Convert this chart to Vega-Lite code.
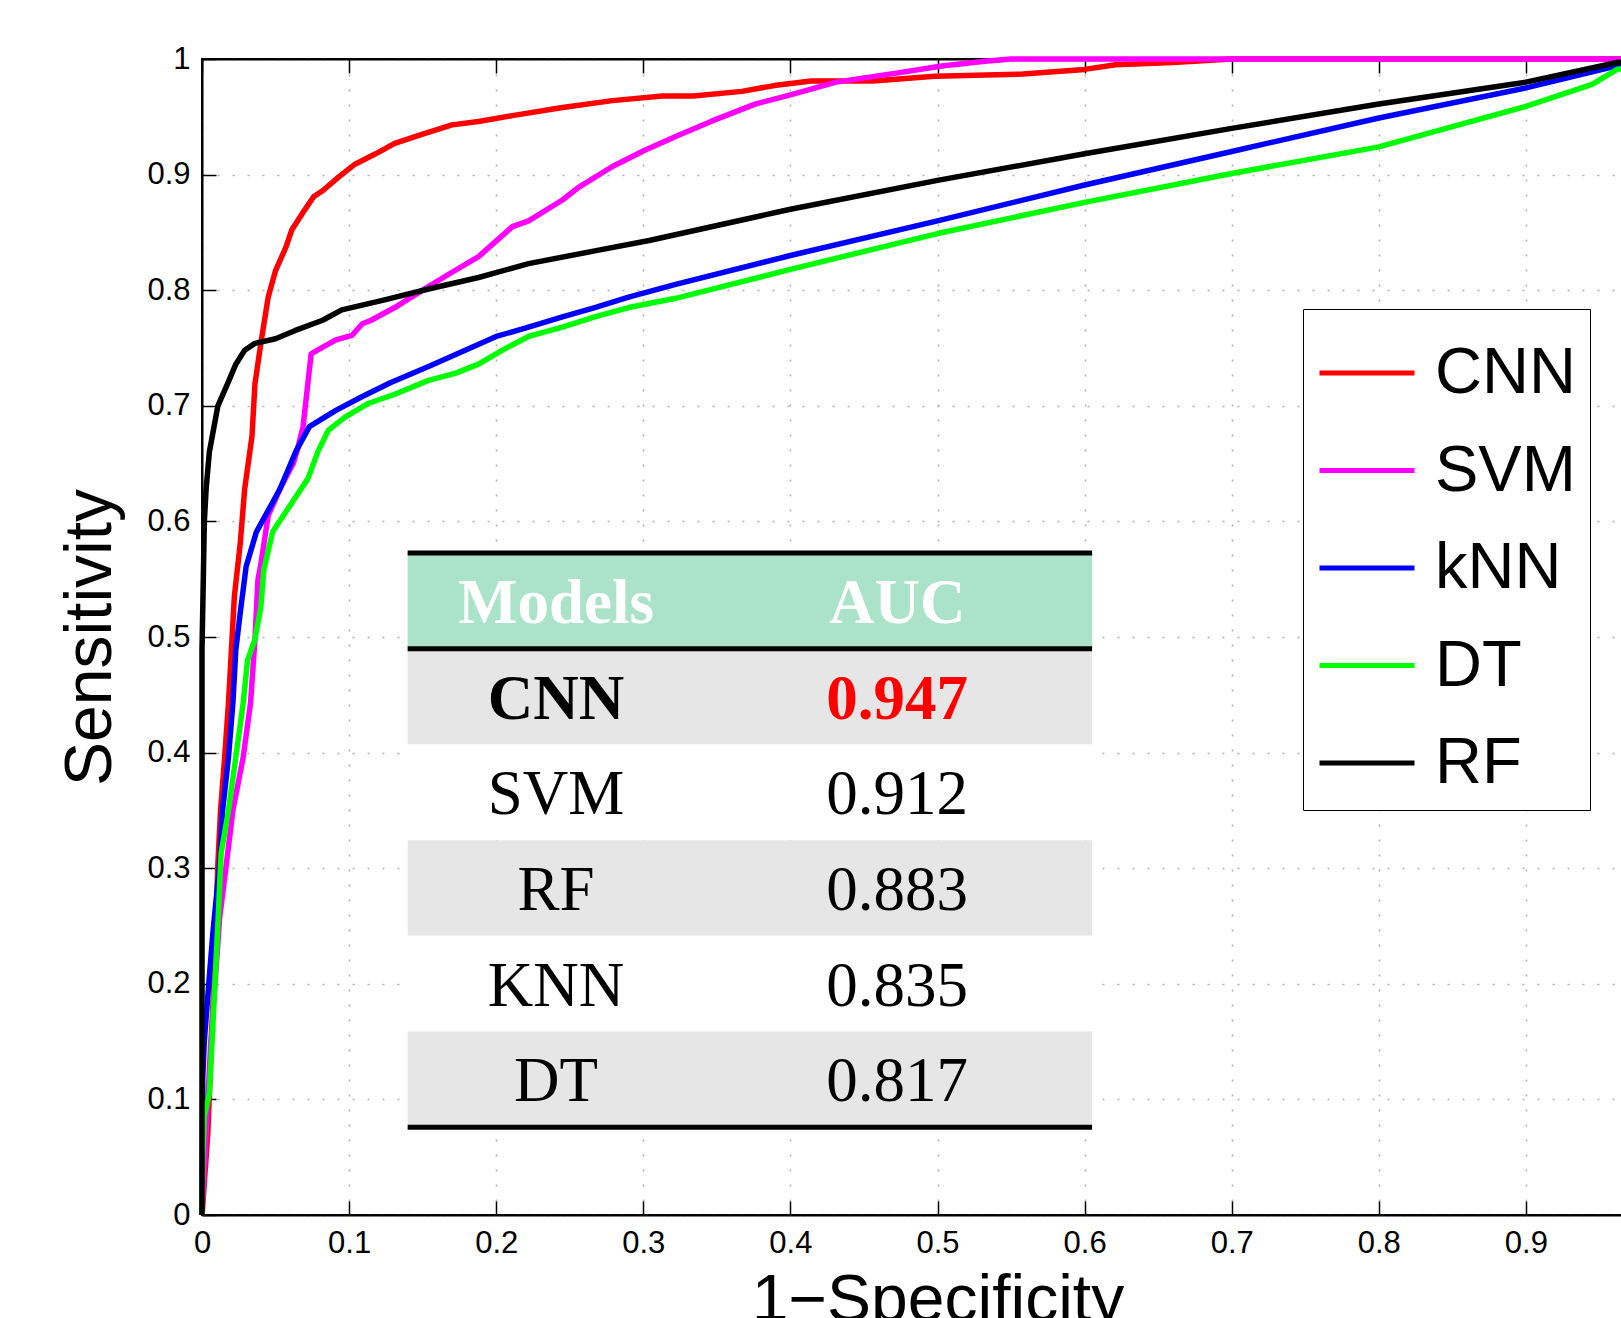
{
  "$schema": "https://vega.github.io/schema/vega-lite/v6.json",
  "width": 1471,
  "height": 1156,
  "autosize": {"type": "none"},
  "padding": {"left": 202, "top": 59, "right": 0, "bottom": 103},
  "background": "#ffffff",
  "config": {"view": {"stroke": "#000000", "strokeWidth": 2}},
  "datasets": {
    "roc": [
      {"model":"CNN","fpr":0,"tpr":0},{"model":"CNN","fpr":0.001,"tpr":0.017},{"model":"CNN","fpr":0.004,"tpr":0.072},{"model":"CNN","fpr":0.008,"tpr":0.2},{"model":"CNN","fpr":0.0108,"tpr":0.304},{"model":"CNN","fpr":0.0126,"tpr":0.35},{"model":"CNN","fpr":0.0154,"tpr":0.396},{"model":"CNN","fpr":0.018,"tpr":0.443},{"model":"CNN","fpr":0.02,"tpr":0.489},{"model":"CNN","fpr":0.022,"tpr":0.535},{"model":"CNN","fpr":0.026,"tpr":0.581},{"model":"CNN","fpr":0.029,"tpr":0.628},{"model":"CNN","fpr":0.034,"tpr":0.674},{"model":"CNN","fpr":0.036,"tpr":0.719},{"model":"CNN","fpr":0.04,"tpr":0.754},{"model":"CNN","fpr":0.045,"tpr":0.794},{"model":"CNN","fpr":0.05,"tpr":0.817},{"model":"CNN","fpr":0.057,"tpr":0.837},{"model":"CNN","fpr":0.061,"tpr":0.852},{"model":"CNN","fpr":0.068,"tpr":0.866},{"model":"CNN","fpr":0.076,"tpr":0.881},{"model":"CNN","fpr":0.082,"tpr":0.886},{"model":"CNN","fpr":0.093,"tpr":0.898},{"model":"CNN","fpr":0.104,"tpr":0.909},{"model":"CNN","fpr":0.118,"tpr":0.918},{"model":"CNN","fpr":0.131,"tpr":0.927},{"model":"CNN","fpr":0.15,"tpr":0.935},{"model":"CNN","fpr":0.17,"tpr":0.943},{"model":"CNN","fpr":0.188,"tpr":0.946},{"model":"CNN","fpr":0.211,"tpr":0.951},{"model":"CNN","fpr":0.245,"tpr":0.958},{"model":"CNN","fpr":0.279,"tpr":0.964},{"model":"CNN","fpr":0.313,"tpr":0.968},{"model":"CNN","fpr":0.334,"tpr":0.968},{"model":"CNN","fpr":0.367,"tpr":0.972},{"model":"CNN","fpr":0.389,"tpr":0.977},{"model":"CNN","fpr":0.414,"tpr":0.981},{"model":"CNN","fpr":0.456,"tpr":0.981},{"model":"CNN","fpr":0.498,"tpr":0.985},{"model":"CNN","fpr":0.558,"tpr":0.987},{"model":"CNN","fpr":0.6,"tpr":0.991},{"model":"CNN","fpr":0.621,"tpr":0.995},{"model":"CNN","fpr":0.66,"tpr":0.997},{"model":"CNN","fpr":0.7,"tpr":1},{"model":"CNN","fpr":1,"tpr":1},
      {"model":"SVM","fpr":0,"tpr":0},{"model":"SVM","fpr":0.002,"tpr":0.05},{"model":"SVM","fpr":0.006,"tpr":0.15},{"model":"SVM","fpr":0.012,"tpr":0.257},{"model":"SVM","fpr":0.0166,"tpr":0.304},{"model":"SVM","fpr":0.021,"tpr":0.35},{"model":"SVM","fpr":0.028,"tpr":0.396},{"model":"SVM","fpr":0.033,"tpr":0.443},{"model":"SVM","fpr":0.036,"tpr":0.498},{"model":"SVM","fpr":0.038,"tpr":0.549},{"model":"SVM","fpr":0.04,"tpr":0.563},{"model":"SVM","fpr":0.045,"tpr":0.605},{"model":"SVM","fpr":0.053,"tpr":0.628},{"model":"SVM","fpr":0.062,"tpr":0.65},{"model":"SVM","fpr":0.0646,"tpr":0.661},{"model":"SVM","fpr":0.0687,"tpr":0.682},{"model":"SVM","fpr":0.0742,"tpr":0.745},{"model":"SVM","fpr":0.077,"tpr":0.747},{"model":"SVM","fpr":0.091,"tpr":0.757},{"model":"SVM","fpr":0.102,"tpr":0.761},{"model":"SVM","fpr":0.109,"tpr":0.771},{"model":"SVM","fpr":0.115,"tpr":0.774},{"model":"SVM","fpr":0.131,"tpr":0.785},{"model":"SVM","fpr":0.15,"tpr":0.8},{"model":"SVM","fpr":0.168,"tpr":0.814},{"model":"SVM","fpr":0.188,"tpr":0.829},{"model":"SVM","fpr":0.211,"tpr":0.855},{"model":"SVM","fpr":0.222,"tpr":0.86},{"model":"SVM","fpr":0.245,"tpr":0.878},{"model":"SVM","fpr":0.256,"tpr":0.889},{"model":"SVM","fpr":0.279,"tpr":0.907},{"model":"SVM","fpr":0.301,"tpr":0.921},{"model":"SVM","fpr":0.322,"tpr":0.933},{"model":"SVM","fpr":0.346,"tpr":0.946},{"model":"SVM","fpr":0.376,"tpr":0.961},{"model":"SVM","fpr":0.4,"tpr":0.969},{"model":"SVM","fpr":0.431,"tpr":0.98},{"model":"SVM","fpr":0.473,"tpr":0.988},{"model":"SVM","fpr":0.503,"tpr":0.994},{"model":"SVM","fpr":0.532,"tpr":0.998},{"model":"SVM","fpr":0.55,"tpr":1},{"model":"SVM","fpr":1,"tpr":1},
      {"model":"kNN","fpr":0,"tpr":0},{"model":"kNN","fpr":0.0005,"tpr":0.118},{"model":"kNN","fpr":0.0016,"tpr":0.151},{"model":"kNN","fpr":0.0046,"tpr":0.2},{"model":"kNN","fpr":0.0074,"tpr":0.244},{"model":"kNN","fpr":0.012,"tpr":0.304},{"model":"kNN","fpr":0.014,"tpr":0.35},{"model":"kNN","fpr":0.018,"tpr":0.396},{"model":"kNN","fpr":0.021,"tpr":0.443},{"model":"kNN","fpr":0.023,"tpr":0.489},{"model":"kNN","fpr":0.026,"tpr":0.521},{"model":"kNN","fpr":0.03,"tpr":0.561},{"model":"kNN","fpr":0.037,"tpr":0.591},{"model":"kNN","fpr":0.053,"tpr":0.628},{"model":"kNN","fpr":0.064,"tpr":0.661},{"model":"kNN","fpr":0.073,"tpr":0.682},{"model":"kNN","fpr":0.091,"tpr":0.696},{"model":"kNN","fpr":0.109,"tpr":0.708},{"model":"kNN","fpr":0.128,"tpr":0.72},{"model":"kNN","fpr":0.154,"tpr":0.734},{"model":"kNN","fpr":0.177,"tpr":0.747},{"model":"kNN","fpr":0.2,"tpr":0.76},{"model":"kNN","fpr":0.222,"tpr":0.768},{"model":"kNN","fpr":0.245,"tpr":0.777},{"model":"kNN","fpr":0.267,"tpr":0.785},{"model":"kNN","fpr":0.29,"tpr":0.794},{"model":"kNN","fpr":0.322,"tpr":0.805},{"model":"kNN","fpr":0.4,"tpr":0.83},{"model":"kNN","fpr":0.5,"tpr":0.86},{"model":"kNN","fpr":0.6,"tpr":0.891},{"model":"kNN","fpr":0.7,"tpr":0.92},{"model":"kNN","fpr":0.8,"tpr":0.949},{"model":"kNN","fpr":0.9,"tpr":0.975},{"model":"kNN","fpr":0.962,"tpr":0.994},{"model":"kNN","fpr":1,"tpr":1},
      {"model":"DT","fpr":0,"tpr":0},{"model":"DT","fpr":0.0005,"tpr":0.049},{"model":"DT","fpr":0.0016,"tpr":0.086},{"model":"DT","fpr":0.005,"tpr":0.105},{"model":"DT","fpr":0.0074,"tpr":0.165},{"model":"DT","fpr":0.0092,"tpr":0.211},{"model":"DT","fpr":0.011,"tpr":0.257},{"model":"DT","fpr":0.013,"tpr":0.313},{"model":"DT","fpr":0.018,"tpr":0.35},{"model":"DT","fpr":0.023,"tpr":0.396},{"model":"DT","fpr":0.028,"tpr":0.443},{"model":"DT","fpr":0.031,"tpr":0.48},{"model":"DT","fpr":0.036,"tpr":0.498},{"model":"DT","fpr":0.04,"tpr":0.526},{"model":"DT","fpr":0.042,"tpr":0.558},{"model":"DT","fpr":0.048,"tpr":0.591},{"model":"DT","fpr":0.06,"tpr":0.614},{"model":"DT","fpr":0.072,"tpr":0.637},{"model":"DT","fpr":0.079,"tpr":0.661},{"model":"DT","fpr":0.086,"tpr":0.679},{"model":"DT","fpr":0.097,"tpr":0.69},{"model":"DT","fpr":0.113,"tpr":0.702},{"model":"DT","fpr":0.131,"tpr":0.71},{"model":"DT","fpr":0.154,"tpr":0.722},{"model":"DT","fpr":0.172,"tpr":0.728},{"model":"DT","fpr":0.188,"tpr":0.736},{"model":"DT","fpr":0.204,"tpr":0.748},{"model":"DT","fpr":0.222,"tpr":0.76},{"model":"DT","fpr":0.245,"tpr":0.768},{"model":"DT","fpr":0.267,"tpr":0.777},{"model":"DT","fpr":0.29,"tpr":0.785},{"model":"DT","fpr":0.322,"tpr":0.793},{"model":"DT","fpr":0.4,"tpr":0.818},{"model":"DT","fpr":0.5,"tpr":0.849},{"model":"DT","fpr":0.6,"tpr":0.876},{"model":"DT","fpr":0.7,"tpr":0.901},{"model":"DT","fpr":0.8,"tpr":0.924},{"model":"DT","fpr":0.9,"tpr":0.959},{"model":"DT","fpr":0.945,"tpr":0.978},{"model":"DT","fpr":0.962,"tpr":0.991},{"model":"DT","fpr":1,"tpr":1},
      {"model":"RF","fpr":0,"tpr":0},{"model":"RF","fpr":0,"tpr":0.489},{"model":"RF","fpr":0.001,"tpr":0.558},{"model":"RF","fpr":0.0016,"tpr":0.6},{"model":"RF","fpr":0.0028,"tpr":0.628},{"model":"RF","fpr":0.005,"tpr":0.66},{"model":"RF","fpr":0.0108,"tpr":0.7},{"model":"RF","fpr":0.0177,"tpr":0.72},{"model":"RF","fpr":0.023,"tpr":0.736},{"model":"RF","fpr":0.029,"tpr":0.748},{"model":"RF","fpr":0.036,"tpr":0.754},{"model":"RF","fpr":0.05,"tpr":0.758},{"model":"RF","fpr":0.063,"tpr":0.765},{"model":"RF","fpr":0.082,"tpr":0.774},{"model":"RF","fpr":0.095,"tpr":0.783},{"model":"RF","fpr":0.122,"tpr":0.791},{"model":"RF","fpr":0.154,"tpr":0.801},{"model":"RF","fpr":0.188,"tpr":0.811},{"model":"RF","fpr":0.222,"tpr":0.823},{"model":"RF","fpr":0.267,"tpr":0.834},{"model":"RF","fpr":0.304,"tpr":0.843},{"model":"RF","fpr":0.4,"tpr":0.87},{"model":"RF","fpr":0.5,"tpr":0.895},{"model":"RF","fpr":0.6,"tpr":0.918},{"model":"RF","fpr":0.7,"tpr":0.94},{"model":"RF","fpr":0.8,"tpr":0.961},{"model":"RF","fpr":0.9,"tpr":0.98},{"model":"RF","fpr":0.962,"tpr":0.997},{"model":"RF","fpr":1,"tpr":1}
    ],
    "auc": [
      {"row":0,"model":"Models","auc":"AUC"},
      {"row":1,"model":"CNN","auc":"0.947"},
      {"row":2,"model":"SVM","auc":"0.912"},
      {"row":3,"model":"RF","auc":"0.883"},
      {"row":4,"model":"KNN","auc":"0.835"},
      {"row":5,"model":"DT","auc":"0.817"}
    ]
  },
  "layer": [
    {
      "data": {"name": "roc"},
      "mark": {"type": "line", "strokeWidth": 5.5, "strokeJoin": "round"},
      "encoding": {
        "x": {
          "field": "fpr", "type": "quantitative",
          "scale": {"domain": [0, 1], "nice": false, "zero": false},
          "axis": {
            "orient": "bottom", "values": [0,0.1,0.2,0.3,0.4,0.5,0.6,0.7,0.8,0.9,1], "format": "~g",
            "tickSize": -14, "tickColor": "#000000", "tickWidth": 1.5,
            "labelPadding": 27, "labelFont": "Liberation Sans", "labelFontSize": 31, "labelColor": "#000000",
            "labelFlush": false, "labelOverlap": false,
            "domainColor": "#000000", "domainWidth": 2,
            "grid": true, "gridDash": [2, 13], "gridColor": "#b0b0b0", "gridWidth": 1.5,
            "title": "1−Specificity", "titleFont": "Liberation Sans", "titleFontSize": 66, "titleFontWeight": "normal", "titleColor": "#000000", "titlePadding": 10
          }
        },
        "y": {
          "field": "tpr", "type": "quantitative",
          "scale": {"domain": [0, 1], "nice": false, "zero": false},
          "axis": {
            "orient": "left", "values": [0,0.1,0.2,0.3,0.4,0.5,0.6,0.7,0.8,0.9,1], "format": "~g",
            "tickSize": -14, "tickColor": "#000000", "tickWidth": 1.5,
            "labelPadding": 26, "labelFont": "Liberation Sans", "labelFontSize": 31, "labelColor": "#000000",
            "labelFlush": false, "labelOverlap": false,
            "domainColor": "#000000", "domainWidth": 2,
            "grid": true, "gridDash": [2, 13], "gridColor": "#b0b0b0", "gridWidth": 1.5,
            "title": "Sensitivity", "titleFont": "Liberation Sans", "titleFontSize": 66, "titleFontWeight": "normal", "titleColor": "#000000", "titlePadding": 22
          }
        },
        "color": {
          "field": "model", "type": "nominal",
          "scale": {"domain": ["CNN","SVM","kNN","DT","RF"], "range": ["#ff0000","#ff00ff","#0000ff","#00ff00","#000000"]},
          "legend": {
            "orient": "none", "legendX": 1101, "legendY": 250, "title": null,
            "symbolType": "stroke", "symbolSize": 9025, "symbolStrokeWidth": 5,
            "labelFont": "Liberation Sans", "labelFontSize": 65, "labelColor": "#000000", "labelOffset": 18, "labelLimit": 500,
            "rowPadding": 14.5, "padding": 14, "strokeColor": "#000000", "fillColor": "#ffffff", "cornerRadius": 0
          }
        },
        "order": {"value": null}
      }
    },
    {
      "data": {"name": "roc"},
      "mark": {"type": "point", "opacity": 0},
      "encoding": {
        "x": {
          "field": "fpr", "type": "quantitative",
          "scale": {"domain": [0, 1], "nice": false, "zero": false},
          "axis": {
            "orient": "top", "values": [0,0.1,0.2,0.3,0.4,0.5,0.6,0.7,0.8,0.9,1],
            "labels": false, "tickSize": -14, "tickColor": "#000000", "tickWidth": 1.5,
            "domainColor": "#000000", "domainWidth": 2, "grid": false, "title": null
          }
        },
        "y": {"field": "tpr", "type": "quantitative", "scale": {"domain": [0, 1], "nice": false}, "axis": null}
      }
    },
    {
      "data": {"name": "auc"},
      "layer": [
        {
          "mark": {"type": "rect"},
          "encoding": {
            "x": {"datum": 0.1398, "type": "quantitative", "axis": null},
            "x2": {"datum": 0.6051},
            "y": {"field": "row", "type": "ordinal", "scale": {"type": "band", "domain": [-5,-4,-3,-2,-1,0,1,2,3,4,5], "paddingInner": 0, "paddingOuter": 0.54, "align": 0.151}, "axis": null},
            "fill": {"condition": [{"test": "datum.row === 0", "value": "#abe2ca"}, {"test": "datum.row % 2 === 1", "value": "#e6e6e6"}], "value": "#ffffff"}
          }
        },
        {
          "transform": [{"filter": "datum.row <= 1"}],
          "mark": {"type": "rule", "strokeWidth": 5, "color": "#000000"},
          "encoding": {
            "x": {"datum": 0.1398, "type": "quantitative", "axis": null},
            "x2": {"datum": 0.6051},
            "y": {"field": "row", "type": "ordinal", "bandPosition": 0, "scale": {"type": "band", "domain": [-5,-4,-3,-2,-1,0,1,2,3,4,5], "paddingInner": 0, "paddingOuter": 0.54, "align": 0.151}, "axis": null}
          }
        },
        {
          "transform": [{"filter": "datum.row === 5"}],
          "mark": {"type": "rule", "strokeWidth": 5, "color": "#000000"},
          "encoding": {
            "x": {"datum": 0.1398, "type": "quantitative", "axis": null},
            "x2": {"datum": 0.6051},
            "y": {"field": "row", "type": "ordinal", "bandPosition": 1, "scale": {"type": "band", "domain": [-5,-4,-3,-2,-1,0,1,2,3,4,5], "paddingInner": 0, "paddingOuter": 0.54, "align": 0.151}, "axis": null}
          }
        },
        {
          "transform": [{"filter": "datum.row === 0"}],
          "mark": {"type": "text", "font": "Liberation Serif", "fontSize": 63, "fontWeight": "bold", "color": "#ffffff", "dy": 3},
          "encoding": {
            "x": {"datum": 0.2407, "type": "quantitative", "axis": null},
            "y": {"field": "row", "type": "ordinal", "scale": {"type": "band", "domain": [-5,-4,-3,-2,-1,0,1,2,3,4,5], "paddingInner": 0, "paddingOuter": 0.54, "align": 0.151}, "axis": null},
            "text": {"field": "model"}
          }
        },
        {
          "transform": [{"filter": "datum.row === 0"}],
          "mark": {"type": "text", "font": "Liberation Serif", "fontSize": 63, "fontWeight": "bold", "color": "#ffffff", "dy": 3},
          "encoding": {
            "x": {"datum": 0.4726, "type": "quantitative", "axis": null},
            "y": {"field": "row", "type": "ordinal", "scale": {"type": "band", "domain": [-5,-4,-3,-2,-1,0,1,2,3,4,5], "paddingInner": 0, "paddingOuter": 0.54, "align": 0.151}, "axis": null},
            "text": {"field": "auc"}
          }
        },
        {
          "transform": [{"filter": "datum.row === 1"}],
          "mark": {"type": "text", "font": "Liberation Serif", "fontSize": 63, "fontWeight": "bold", "color": "#000000", "dy": 3},
          "encoding": {
            "x": {"datum": 0.2407, "type": "quantitative", "axis": null},
            "y": {"field": "row", "type": "ordinal", "scale": {"type": "band", "domain": [-5,-4,-3,-2,-1,0,1,2,3,4,5], "paddingInner": 0, "paddingOuter": 0.54, "align": 0.151}, "axis": null},
            "text": {"field": "model"}
          }
        },
        {
          "transform": [{"filter": "datum.row === 1"}],
          "mark": {"type": "text", "font": "Liberation Serif", "fontSize": 63, "fontWeight": "bold", "color": "#ff0000", "dy": 3},
          "encoding": {
            "x": {"datum": 0.4726, "type": "quantitative", "axis": null},
            "y": {"field": "row", "type": "ordinal", "scale": {"type": "band", "domain": [-5,-4,-3,-2,-1,0,1,2,3,4,5], "paddingInner": 0, "paddingOuter": 0.54, "align": 0.151}, "axis": null},
            "text": {"field": "auc"}
          }
        },
        {
          "transform": [{"filter": "datum.row >= 2"}],
          "mark": {"type": "text", "font": "Liberation Serif", "fontSize": 63, "fontWeight": "normal", "color": "#000000", "dy": 3},
          "encoding": {
            "x": {"datum": 0.2407, "type": "quantitative", "axis": null},
            "y": {"field": "row", "type": "ordinal", "scale": {"type": "band", "domain": [-5,-4,-3,-2,-1,0,1,2,3,4,5], "paddingInner": 0, "paddingOuter": 0.54, "align": 0.151}, "axis": null},
            "text": {"field": "model"}
          }
        },
        {
          "transform": [{"filter": "datum.row >= 2"}],
          "mark": {"type": "text", "font": "Liberation Serif", "fontSize": 63, "fontWeight": "normal", "color": "#000000", "dy": 3},
          "encoding": {
            "x": {"datum": 0.4726, "type": "quantitative", "axis": null},
            "y": {"field": "row", "type": "ordinal", "scale": {"type": "band", "domain": [-5,-4,-3,-2,-1,0,1,2,3,4,5], "paddingInner": 0, "paddingOuter": 0.54, "align": 0.151}, "axis": null},
            "text": {"field": "auc"}
          }
        }
      ]
    }
  ],
  "resolve": {"scale": {"y": "independent"}, "axis": {"x": "independent"}}
}
